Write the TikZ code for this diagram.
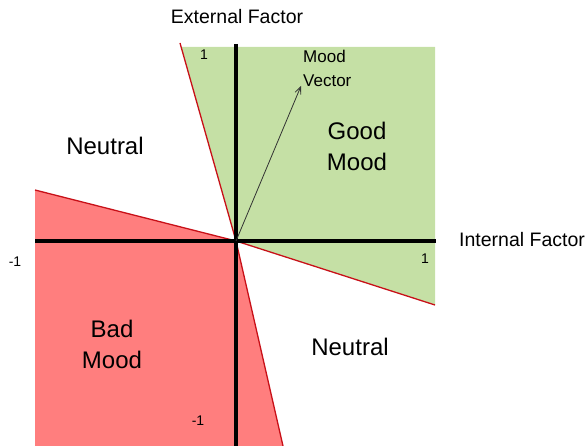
\documentclass[tikz,border=0pt]{standalone}
\usepackage{fontspec}
\setmainfont{Liberation Sans}
\usetikzlibrary{arrows.meta}
\definecolor{goodgreen}{RGB}{197,224,165}
\definecolor{badred}{RGB}{255,126,126}
\definecolor{edgered}{RGB}{200,16,24}
\begin{document}
\begin{tikzpicture}[x=1pt,y=-1pt,
  lbl/.style={inner sep=0pt,font=\fontsize{19.5}{22}\selectfont},
  big/.style={inner sep=0pt,align=center,font=\fontsize{24}{31}\selectfont},
  num/.style={inner sep=0pt,font=\fontsize{14}{16}\selectfont},
  axis/.style={line width=3.2pt,black},
  border/.style={line width=1.3pt,edgered}]
\useasboundingbox (0,0) rectangle (588,446);
\coordinate (O) at (236,241);
% regions
\fill[goodgreen] (181,47) -- (435,47) -- (435,305) -- (O) -- cycle;
\fill[badred] (35,190) -- (O) -- (283,446) -- (35,446) -- cycle;
% borders
\coordinate (tl) at (180,43);
\coordinate (br) at (283,446);
\coordinate (lf) at (35,190);
\coordinate (rt) at (435,305);
\draw[border] (tl) -- (O) -- (br);
\draw[border] (lf) -- (O) -- (rt);
% axes
\coordinate (xl) at (35,241);
\coordinate (xr) at (436,241);
\coordinate (yt) at (236,44);
\coordinate (yb) at (236,446);
\draw[axis] (xl) -- (xr);
\draw[axis] (yt) -- (yb);
% vector
\coordinate (vt) at (301,86);
\draw[line width=0.8pt,black!80,-{Straight Barb[length=7pt,width=6pt]}] (O) -- (vt);
% labels
\node[lbl] (ext) at (237,17) {External Factor};
\node[lbl,anchor=west] (int) at (459,240) {Internal Factor};
\node[lbl,anchor=north west,align=left,font=\fontsize{17}{24}\selectfont] (mv) at (303,50) {Mood\\Vector};
\node[big] (good) at (357,146) {Good\\Mood};
\node[big] (n1) at (105,146) {Neutral};
\node[big] (bad) at (112,344) {Bad\\Mood};
\node[big] (n2) at (350,347) {Neutral};
\node[num] (one1) at (204,55) {1};
\node[num] (mone1) at (15,262) {-1};
\node[num] (one2) at (425,259) {1};
\node[num] (mone2) at (198,421) {-1};
\end{tikzpicture}
\end{document}
